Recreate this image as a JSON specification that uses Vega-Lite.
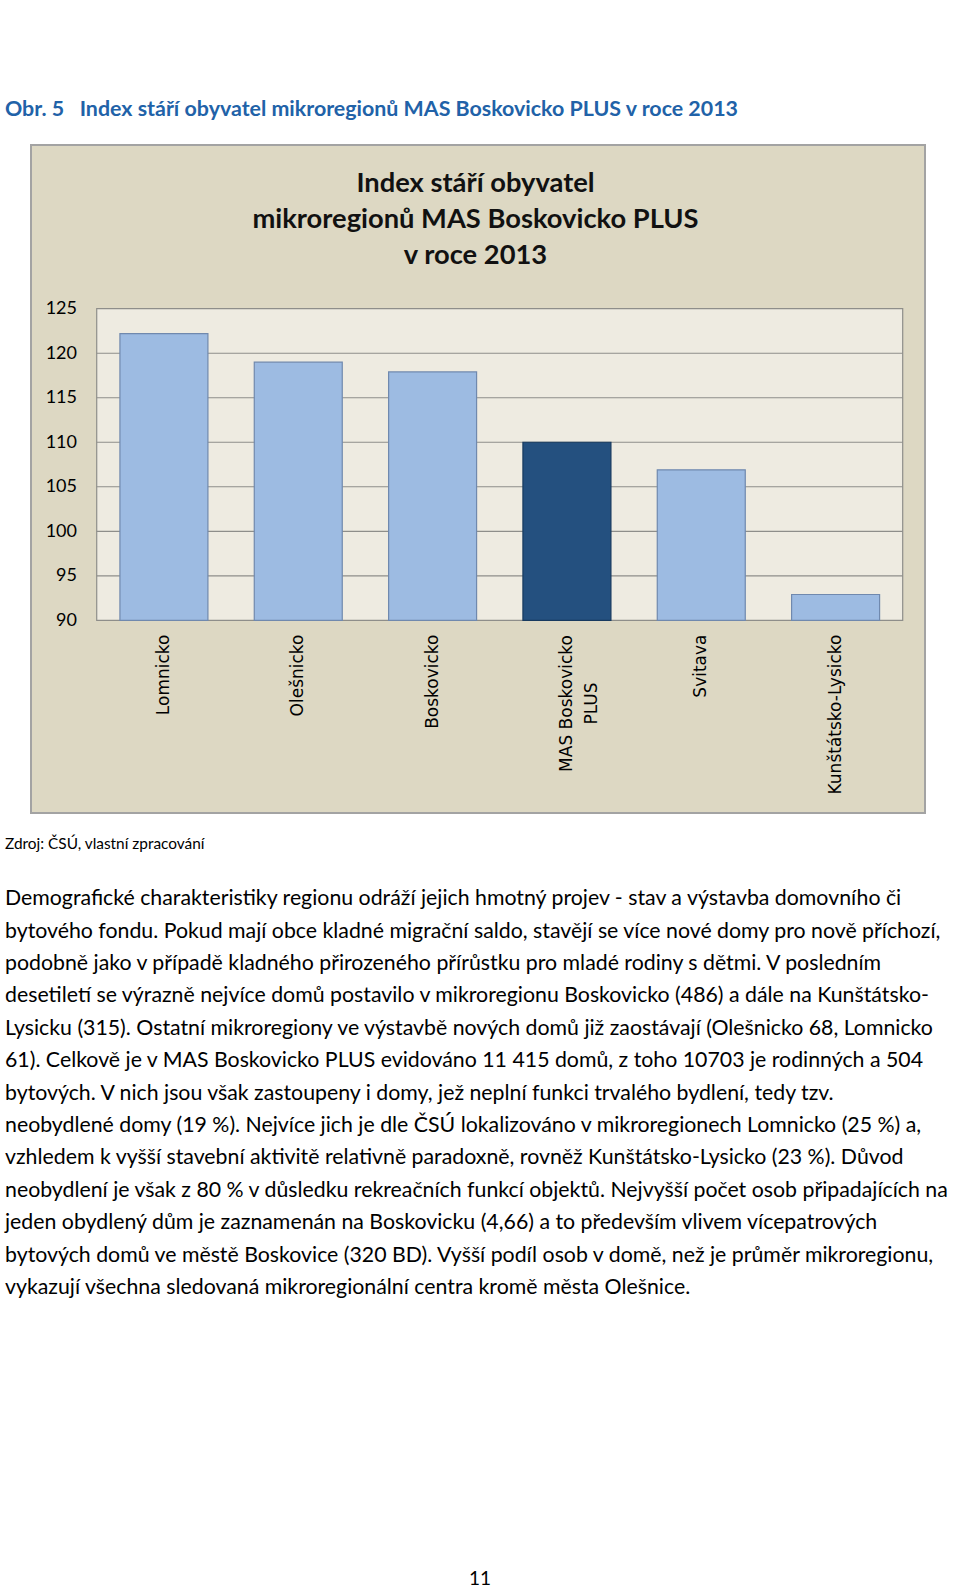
{
  "$schema": "https://vega.github.io/schema/vega-lite/v6.json",
  "background": "white",
  "padding": {"left": 5, "top": 98, "right": 0, "bottom": 0},
  "title": {
    "text": "Obr. 5\u00a0\u00a0 Index stáří obyvatel mikroregionů MAS Boskovicko PLUS v roce 2013",
    "anchor": "start",
    "frame": "bounds",
    "font": "Lato",
    "fontSize": 21.4,
    "fontWeight": "bold",
    "color": "#2162A8",
    "offset": 24
  },
  "spacing": 0,
  "vconcat": [
    {
      "width": 894,
      "height": 668,
      "view": {"fill": "#DDD8C3", "stroke": "#A3A3A3", "strokeWidth": 2},
      "title": {
        "text": ["Index stáří obyvatel", "mikroregionů MAS Boskovicko PLUS", "v roce 2013"],
        "font": "Lato",
        "fontSize": 27.3,
        "fontWeight": "bold",
        "lineHeight": 36,
        "anchor": "middle",
        "baseline": "top",
        "offset": -124,
        "dx": -2.5,
        "color": "#111111"
      },
      "resolve": {"scale": {"x": "independent"}},
      "layer": [
        {
          "layer": [
            {
              "data": {"values": [{"area": "plot"}]},
              "mark": {"type": "bar", "fill": "#EEEBE1", "stroke": "#8E8E8A", "strokeWidth": 1.2},
              "encoding": {
                "x": {"field": "area", "type": "nominal", "scale": {"type": "band", "paddingInner": 0, "paddingOuter": 0.0546, "align": 0.7466}, "axis": null},
                "y": {"datum": 90, "type": "quantitative", "title": null},
                "y2": {"datum": 125}
              }
            },
            {
              "data": {"values": [
                {"area": "plot", "v": 95},
                {"area": "plot", "v": 100},
                {"area": "plot", "v": 105},
                {"area": "plot", "v": 110},
                {"area": "plot", "v": 115},
                {"area": "plot", "v": 120}
              ]},
              "mark": {"type": "bar", "fill": null, "stroke": "#8E8E8A", "strokeWidth": 1.2},
              "encoding": {
                "x": {"field": "area", "type": "nominal", "axis": null},
                "y": {"field": "v", "type": "quantitative", "title": null},
                "y2": {"field": "v"}
              }
            }
          ]
        },
        {
          "data": {"values": [
            {"region": "Lomnicko", "index": 122.2, "group": "mikroregion"},
            {"region": "Olešnicko", "index": 119.0, "group": "mikroregion"},
            {"region": "Boskovicko", "index": 117.9, "group": "mikroregion"},
            {"region": "MAS Boskovicko PLUS", "index": 110.0, "group": "MAS"},
            {"region": "Svitava", "index": 106.9, "group": "mikroregion"},
            {"region": "Kunštátsko-Lysicko", "index": 92.9, "group": "mikroregion"}
          ]},
          "mark": {"type": "bar", "strokeWidth": 1.2},
          "encoding": {
            "x": {
              "field": "region",
              "type": "nominal",
              "sort": null,
              "scale": {"type": "band", "paddingInner": 0.345, "paddingOuter": 0.5, "align": 0.662},
              "axis": {
                "orient": "bottom",
                "offset": -179,
                "title": null,
                "domain": false,
                "ticks": false,
                "tickSize": 0,
                "grid": false,
                "labelAngle": -90,
                "labelFont": "DejaVu Sans",
                "labelFontSize": 17,
                "labelColor": "#000000",
                "labelLimit": 400,
                "labelLineHeight": 25,
                "labelBaseline": "middle",
                "labelAlign": {"condition": {"test": "datum.value === 'MAS Boskovicko PLUS'", "value": "center"}, "value": "right"},
                "labelPadding": {"condition": {"test": "datum.value === 'MAS Boskovicko PLUS'", "value": 69}, "value": 0},
                "labelExpr": "datum.value === 'MAS Boskovicko PLUS' ? ['MAS Boskovicko', 'PLUS'] : datum.value"
              }
            },
            "y": {
              "field": "index",
              "type": "quantitative",
              "scale": {"domain": [68.355, 143.39], "nice": false, "zero": false},
              "axis": {
                "orient": "left",
                "offset": -45.5,
                "title": null,
                "values": [90, 95, 100, 105, 110, 115, 120, 125],
                "domain": false,
                "ticks": false,
                "tickSize": 0,
                "grid": false,
                "labelPadding": 0,
                "labelFont": "Lato",
                "labelFontSize": 18,
                "labelColor": "#000000"
              }
            },
            "y2": {"datum": 90},
            "fill": {"field": "group", "type": "nominal", "scale": {"domain": ["mikroregion", "MAS"], "range": ["#9DBBE2", "#24507F"]}, "legend": null},
            "stroke": {"field": "group", "type": "nominal", "scale": {"domain": ["mikroregion", "MAS"], "range": ["#7089AE", "#173A5F"]}, "legend": null}
          }
        }
      ]
    },
    {
      "width": 898,
      "height": 69,
      "data": {"values": [{"part": "zdroj", "text": "Zdroj: ČSÚ, vlastní zpracování"}]},
      "mark": {"type": "text", "font": "Lato", "fontSize": 15.4, "align": "left", "baseline": "alphabetic", "dx": -26, "color": "#000000"},
      "encoding": {
        "x": {"field": "part", "type": "nominal", "scale": {"type": "point", "padding": 0, "align": 0}, "axis": null},
        "text": {"field": "text"}
      }
    },
    {
      "width": 898,
      "height": {"step": 32.4},
      "data": {"values": [
        {"part": "odstavec", "line": 1, "text": "Demografické charakteristiky regionu odráží jejich hmotný projev  -  stav a výstavba domovního či"},
        {"part": "odstavec", "line": 2, "text": "bytového fondu. Pokud mají obce kladné migrační saldo, stavějí se více nové domy pro nově příchozí,"},
        {"part": "odstavec", "line": 3, "text": "podobně jako v případě kladného přirozeného přírůstku pro mladé rodiny s dětmi. V posledním"},
        {"part": "odstavec", "line": 4, "text": "desetiletí se výrazně nejvíce domů postavilo v mikroregionu Boskovicko (486) a dále na Kunštátsko-"},
        {"part": "odstavec", "line": 5, "text": "Lysicku (315). Ostatní mikroregiony ve výstavbě nových domů již zaostávají (Olešnicko 68, Lomnicko"},
        {"part": "odstavec", "line": 6, "text": "61). Celkově je v MAS Boskovicko PLUS evidováno 11 415 domů, z toho 10703 je rodinných a 504"},
        {"part": "odstavec", "line": 7, "text": "bytových. V nich jsou však zastoupeny i domy, jež neplní funkci trvalého bydlení, tedy tzv."},
        {"part": "odstavec", "line": 8, "text": "neobydlené domy (19 %). Nejvíce jich je dle ČSÚ lokalizováno v mikroregionech Lomnicko (25 %) a,"},
        {"part": "odstavec", "line": 9, "text": "vzhledem k vyšší stavební aktivitě relativně paradoxně, rovněž Kunštátsko-Lysicko (23 %). Důvod"},
        {"part": "odstavec", "line": 10, "text": "neobydlení je však z 80 % v důsledku rekreačních funkcí objektů. Nejvyšší počet osob připadajících na"},
        {"part": "odstavec", "line": 11, "text": "jeden obydlený dům je zaznamenán na Boskovicku (4,66) a to především vlivem vícepatrových"},
        {"part": "odstavec", "line": 12, "text": "bytových domů ve městě Boskovice (320 BD). Vyšší podíl osob v domě, než je průměr mikroregionu,"},
        {"part": "odstavec", "line": 13, "text": "vykazují všechna sledovaná mikroregionální centra kromě města Olešnice."}
      ]},
      "mark": {"type": "text", "font": "Lato", "fontSize": 21.3, "align": "left", "baseline": "middle", "dx": -26, "color": "#000000"},
      "encoding": {
        "x": {"field": "part", "type": "nominal", "scale": {"type": "point", "padding": 0, "align": 0}, "axis": null},
        "y": {"field": "line", "type": "ordinal", "axis": null},
        "text": {"field": "text"}
      }
    },
    {
      "width": 898,
      "height": 284,
      "data": {"values": [{"page": "11"}]},
      "mark": {"type": "text", "font": "Lato", "fontSize": 19, "align": "center", "baseline": "bottom", "color": "#000000"},
      "encoding": {
        "y": {"field": "page", "type": "nominal", "scale": {"type": "point", "padding": 0, "align": 1}, "axis": null},
        "text": {"field": "page"}
      }
    }
  ],
  "config": {
    "view": {"stroke": null},
    "axis": {"grid": false}
  }
}
